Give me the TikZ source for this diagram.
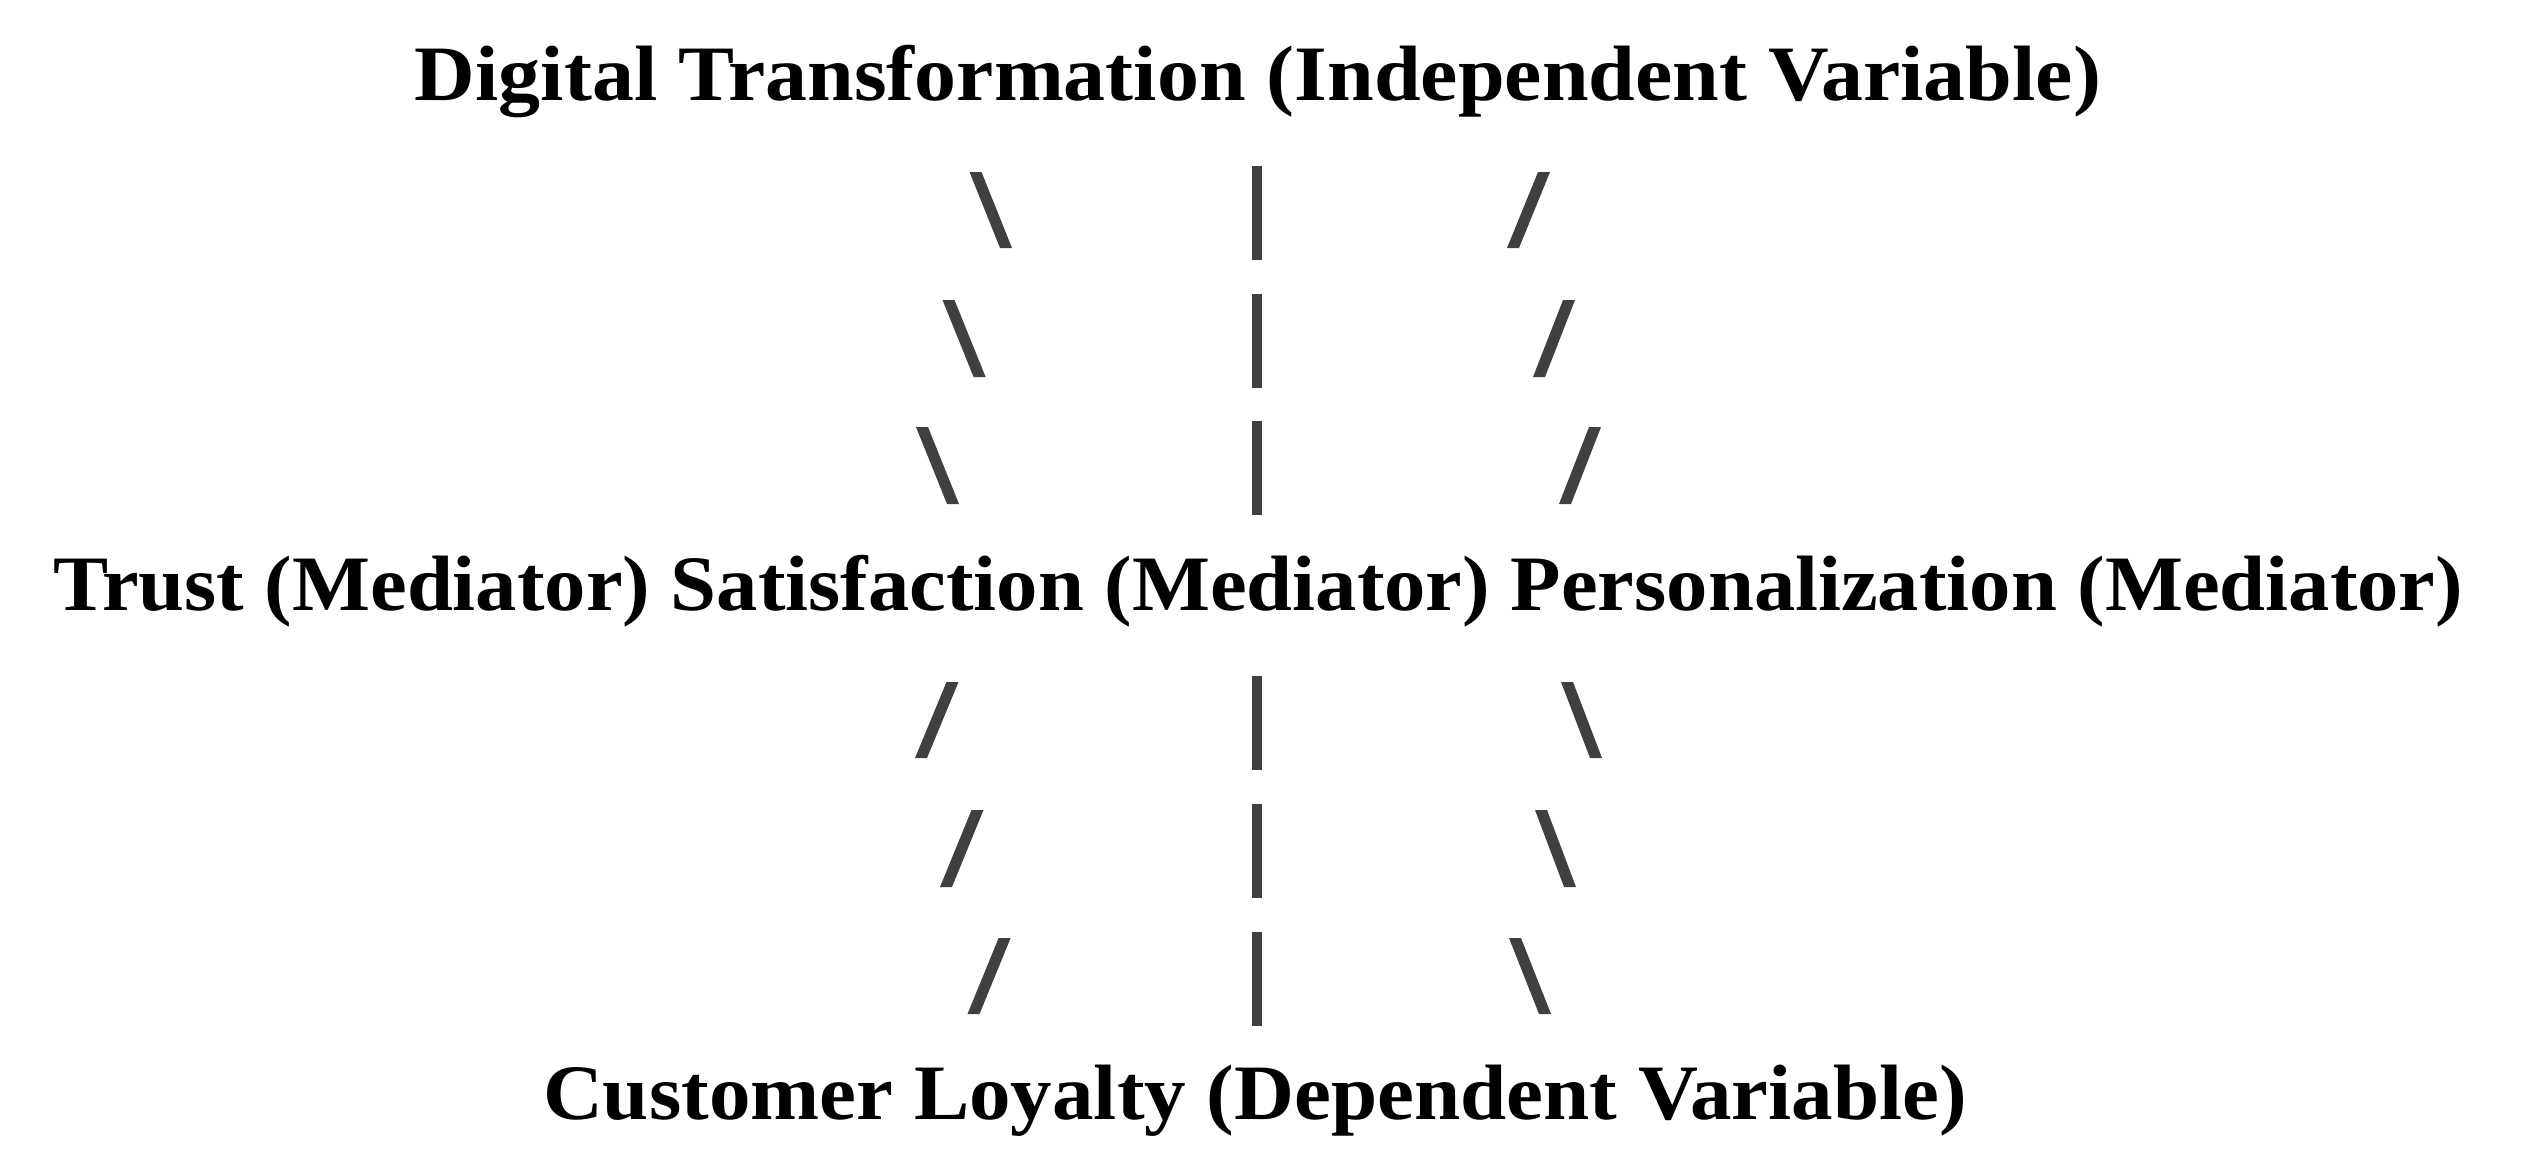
\documentclass[tikz,border=0pt]{standalone}
\usepackage{fontspec}
\setmainfont{Liberation Serif}
\definecolor{ink}{HTML}{404040}
\newcommand\slashmark[5]{\fill[ink] (#1-#5,#2) -- (#1+#5,#2) -- (#3+#5,#4) -- (#3-#5,#4) -- cycle;}
\newcommand\fitw[2]{\resizebox{#1}{\height}{#2}}
\tikzset{lbl/.style={inner sep=0pt, anchor=base, font=\fontsize{78.5}{90}\selectfont\bfseries, text=black}}
\begin{document}
\begin{tikzpicture}[x=1pt,y=-1pt]
\useasboundingbox (0,0) rectangle (2524,1170);
\fill[white] (0,0) rectangle (2524,1170);
\node[lbl] (dt) at (1258,100) {\fitw{1686pt}{Digital Transformation (Independent Variable)}};
\node[lbl] (med) at (1258,610) {\fitw{2410pt}{Trust (Mediator) Satisfaction (Mediator) Personalization (Mediator)}};
\node[lbl] (cl) at (1255,1119) {\fitw{1424pt}{Customer Loyalty (Dependent Variable)}};
% upper slashes
\slashmark{975.5}{172}{1006}{248}{6}
\slashmark{948.5}{300}{979.6}{377}{6}
\slashmark{922}{427}{953}{504}{6}
\slashmark{1544}{172}{1513}{248}{6}
\slashmark{1569}{300}{1539}{377}{6}
\slashmark{1595}{427}{1565}{504}{6}
\slashmark{1257}{166}{1257}{260}{5}
\slashmark{1257}{294}{1257}{388}{5}
\slashmark{1257}{421}{1257}{515}{5}
% lower slashes
\slashmark{952.5}{682}{921}{758}{6}
\slashmark{977.5}{810}{946}{887}{6}
\slashmark{1004.6}{938}{973.5}{1014}{6}
\slashmark{1567}{682}{1596}{758}{6}
\slashmark{1541}{810}{1570}{887}{6}
\slashmark{1515}{938}{1545}{1014}{6}
\slashmark{1257}{676}{1257}{770}{5}
\slashmark{1257}{804}{1257}{898}{5}
\slashmark{1257}{932}{1257}{1026}{5}
\end{tikzpicture}
\end{document}
